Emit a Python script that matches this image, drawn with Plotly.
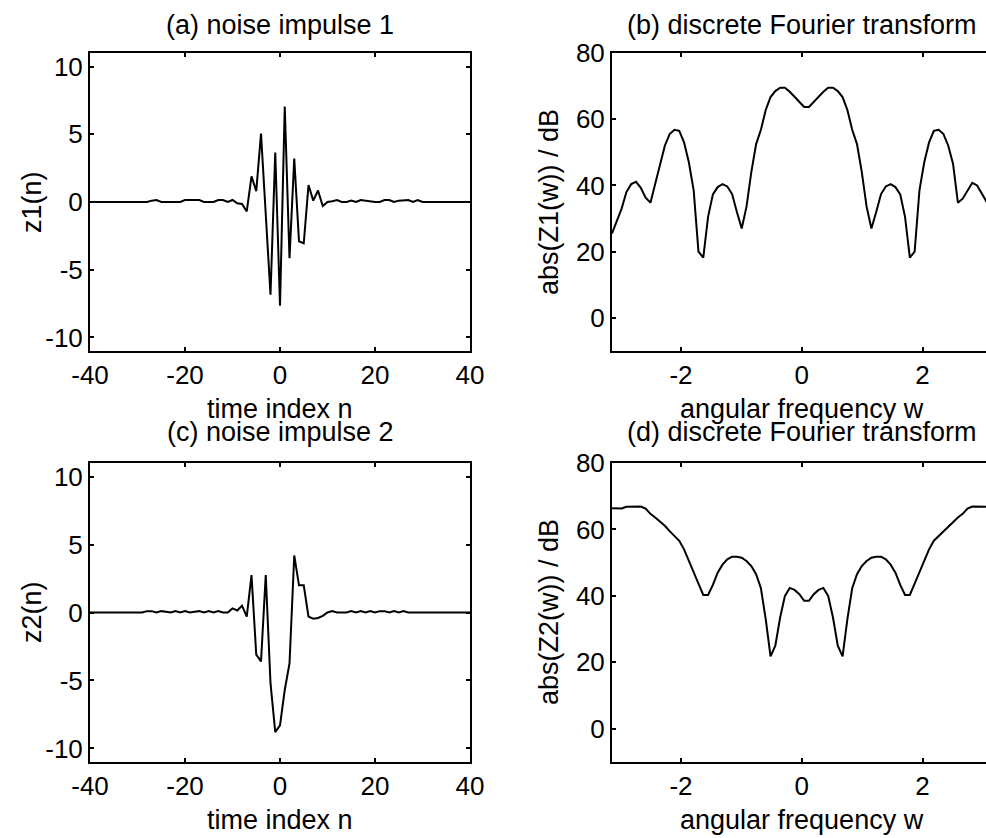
import numpy as np
import plotly.graph_objects as go

# ---------------- data ----------------
n = list(range(-40, 41))

z1 = ([0.0] * 13 +
      [0.1, 0.15, 0.0, 0.0, 0.0, 0.0, 0.0, 0.15, 0.15, 0.15, 0.15, 0.0, 0.0, 0.0,
       0.15, 0.15, 0.0, 0.15, -0.1, -0.15, -0.7, 1.9, 0.8, 5.05, -0.9, -6.85, 3.65,
       -7.65, 7.05, -4.15, 3.2, -2.9, -3.05, 1.25, 0.1, 0.85, -0.3, 0.0, 0.05, 0.15,
       0.0, 0.0, 0.1, 0.0, 0.15, 0.1, 0.0, 0.0, 0.0, 0.15, 0.15, 0.0, 0.1, 0.15, 0.15,
       0.0, 0.15, 0.0] +
      [0.0] * 10)

z2 = ([0.0] * 11 +
      [0.0, 0.1, 0.1, 0.0, 0.1, 0.05, 0.0, 0.1, 0.0, 0.1, 0.0, 0.05, 0.1, 0.0, 0.1,
       0.0, 0.1, 0.0, 0.0, 0.3, 0.15, 0.5, -0.3, 2.75, -3.1, -3.6, 2.75, -5.2, -8.8,
       -8.3, -5.7, -3.75, 4.2, 2.0, 2.0, -0.3, -0.45, -0.4, -0.25, 0.0, 0.1, 0.0, 0.0,
       0.0, 0.1, 0.0, 0.1, 0.0, 0.1, 0.0, 0.1, 0.1, 0.0, 0.1, 0.0, 0.1, 0.0] +
      [0.0] * 13)

w = np.linspace(-np.pi, np.pi, 80)

Z1_dB = [25.5, 29.5, 33.0, 38.0, 40.4, 41.1, 39.3, 36.3, 34.8, 40.5,
         46.5, 52.0, 55.5, 56.8, 56.5, 53.0, 47.0, 38.5, 20.0, 18.2,
         30.5, 37.3, 39.5, 40.4, 39.7, 37.4, 32.0, 27.0, 33.6, 44.0,
         52.5, 56.8, 62.8, 66.7, 68.5, 69.5, 69.5, 68.3, 66.8, 65.3,
         63.7, 63.7, 65.3, 66.8, 68.3, 69.5, 69.5, 68.5, 66.7, 62.8,
         56.8, 52.5, 44.0, 33.6, 27.0, 32.0, 37.4, 39.7, 40.4, 39.5,
         37.3, 30.5, 18.2, 20.0, 38.5, 47.0, 53.0, 56.5, 56.8, 55.5,
         52.0, 46.5, 34.8, 36.0, 38.5, 40.8, 40.0, 37.5, 35.0, 31.0]

Z2_dB = [66.4, 66.3, 66.3, 66.8, 66.9, 66.9, 66.9, 66.3, 64.7, 63.6,
         62.4, 61.1, 59.5, 58.0, 56.6, 54.0, 50.4, 47.3, 43.7, 40.3,
         40.3, 43.3, 47.0, 49.4, 51.0, 51.8, 51.8, 51.5, 50.5, 49.0,
         46.5, 42.3, 33.0, 21.8, 25.0, 33.5, 40.0, 42.4, 41.8, 40.5,
         38.5, 38.5, 40.5, 41.8, 42.4, 40.0, 33.5, 25.0, 21.8, 33.0,
         42.3, 46.5, 49.0, 50.5, 51.5, 51.8, 51.8, 51.0, 49.4, 47.0,
         43.3, 40.3, 40.3, 43.7, 47.3, 50.4, 54.0, 56.6, 58.0, 59.5,
         61.1, 62.4, 63.6, 64.7, 66.3, 66.9, 66.9, 66.9, 66.8, 66.3]

time_ticks = [-40, -20, 0, 20, 40]
time_ticktext = ["-40", "-20", "0", "20", "40"]
amp_ticks = [-10, -5, 0, 5, 10]
amp_ticktext = ["-10", "-5", "0", "5", "10"]
freq_ticks = [-2, 0, 2]
freq_ticktext = ["-2", "0", "2"]
db_ticks = [0, 20, 40, 60, 80]
db_ticktext = ["0", "20", "40", "60", "80"]

titles = ["(a) noise impulse 1", "(b) discrete Fourier transform",
          "(c) noise impulse 2", "(d) discrete Fourier transform"]
xlabels = ["time index n", "angular frequency w", "time index n", "angular frequency w"]
ylabels = ["z1(n)", "abs(Z1(w)) / dB", "z2(n)", "abs(Z2(w)) / dB"]

# ---------------- layout (pixel geometry) ----------------
W, H = 986, 838
FONT = "Liberation Sans, Arial, Helvetica, sans-serif"
FS_TICK = 26
FS_TEXT = 27

def px_x(p):
    return p / W

def px_y(p):
    return 1 - p / H

left_dom = [px_x(90), px_x(470)]
right_dom = [px_x(612), 1.0]
top_dom = [px_y(351), px_y(53)]
bot_dom = [px_y(762), px_y(463)]
# right panels: -pi at 612 px, 60.4 px per radian, cut by the page edge
right_range = [-np.pi, -np.pi + (W - 612) / 60.4]

fig = go.Figure()
line = dict(color="black", width=2)
fig.add_trace(go.Scatter(x=n, y=z1, mode="lines", line=line, xaxis="x", yaxis="y"))
fig.add_trace(go.Scatter(x=w, y=Z1_dB, mode="lines", line=line, xaxis="x2", yaxis="y2"))
fig.add_trace(go.Scatter(x=n, y=z2, mode="lines", line=line, xaxis="x3", yaxis="y3"))
fig.add_trace(go.Scatter(x=w, y=Z2_dB, mode="lines", line=line, xaxis="x4", yaxis="y4"))

def ax(**kw):
    base = dict(showline=True, linecolor="black", linewidth=2, ticks="inside",
                ticklen=4, tickwidth=1.5, tickcolor="black", showgrid=False,
                zeroline=False, automargin=False, mirror="ticks",
                tickfont=dict(family=FONT, size=FS_TICK, color="black"),
                fixedrange=True)
    base.update(kw)
    return base

layout = dict(
    template="none",
    width=W, height=H, margin=dict(l=0, r=0, t=0, b=0, pad=0), autosize=False,
    paper_bgcolor="white", plot_bgcolor="white", showlegend=False,
    font=dict(family=FONT, size=FS_TEXT, color="black"),
    xaxis=ax(domain=left_dom, range=[-40, 40], tickvals=time_ticks, ticktext=time_ticktext,
             anchor="y"),
    yaxis=ax(domain=top_dom, range=[-11, 11], tickvals=amp_ticks, ticktext=amp_ticktext,
             anchor="x"),
    xaxis2=ax(domain=right_dom, range=right_range, tickvals=freq_ticks,
              ticktext=freq_ticktext, anchor="y2"),
    yaxis2=ax(domain=top_dom, range=[-10, 80], tickvals=db_ticks, ticktext=db_ticktext,
              anchor="x2", mirror=False),
    xaxis3=ax(domain=left_dom, range=[-40, 40], tickvals=time_ticks, ticktext=time_ticktext,
              anchor="y3"),
    yaxis3=ax(domain=bot_dom, range=[-11, 11], tickvals=amp_ticks, ticktext=amp_ticktext,
              anchor="x3"),
    xaxis4=ax(domain=right_dom, range=right_range, tickvals=freq_ticks,
              ticktext=freq_ticktext, anchor="y4"),
    yaxis4=ax(domain=bot_dom, range=[-10, 80], tickvals=db_ticks, ticktext=db_ticktext,
              anchor="x4", mirror=False),
)

anns = []
centers_x = [280, 801.5, 280, 801.5]
title_y = [25, 25, 432, 432]
xlabel_y = [409, 409, 820, 820]
ylabel_x = [32, 549, 32, 549]
ylabel_y = [202, 202, 612, 612]
for i in range(4):
    anns.append(dict(text=titles[i], x=px_x(centers_x[i]), y=px_y(title_y[i]),
                     xref="paper", yref="paper", showarrow=False,
                     xanchor="center", yanchor="middle", font=dict(size=FS_TEXT)))
    anns.append(dict(text=xlabels[i], x=px_x(centers_x[i]), y=px_y(xlabel_y[i]),
                     xref="paper", yref="paper", showarrow=False,
                     xanchor="center", yanchor="middle", font=dict(size=FS_TEXT)))
    anns.append(dict(text=ylabels[i], x=px_x(ylabel_x[i]), y=px_y(ylabel_y[i]),
                     xref="paper", yref="paper", showarrow=False, textangle=-90,
                     xanchor="center", yanchor="middle", font=dict(size=FS_TEXT)))
layout["annotations"] = anns

fig.update_layout(**layout)

# remove the page's default body margin so the figure fills the window exactly
page_js = ("document.documentElement.style.margin='0';"
           "document.documentElement.style.overflow='hidden';"
           "document.body.style.margin='0';"
           "document.body.style.padding='0';"
           "document.body.style.overflow='hidden';")
fig.write_html("out.html", config={"displayModeBar": False}, post_script=page_js)
